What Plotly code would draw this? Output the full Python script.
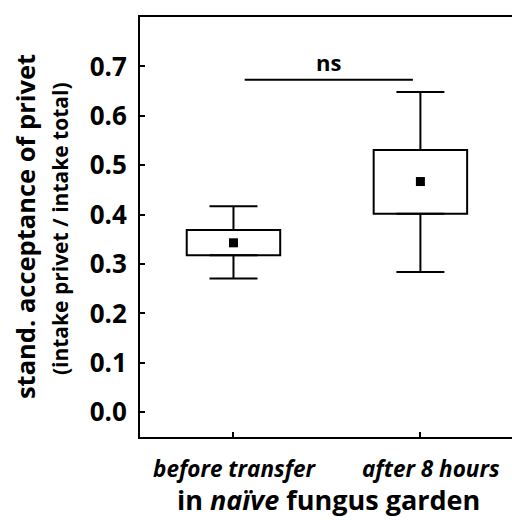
import plotly.graph_objects as go

# Groups and summary values (standardized acceptance of privet)
groups = ["before transfer", "after 8 hours"]
group_x = [0, 1]
means = [0.343, 0.467]
box_low = [0.318, 0.402]
box_high = [0.369, 0.531]
whisker_low = [0.271, 0.284]
whisker_high = [0.417, 0.648]

# Significance bracket between the groups
bracket_x = [0.06, 0.96]
bracket_y = 0.673
bracket_label = "ns"

y_ticks = [0.0, 0.1, 0.2, 0.3, 0.4, 0.5, 0.6, 0.7]

FONT = "Open Sans"
BLACK = "#000000"

fig = go.Figure()

# Upper whiskers: from the top of the box up to the maximum, with caps
fig.add_trace(go.Scatter(
    x=group_x, y=box_high, mode="markers",
    marker=dict(size=1, color="rgba(0,0,0,0)"),
    error_y=dict(type="data", symmetric=False,
                 array=[h - b for h, b in zip(whisker_high, box_high)],
                 arrayminus=[0, 0], color=BLACK, thickness=2, width=24),
    showlegend=False, hoverinfo="skip"))

# Lower whiskers
fig.add_trace(go.Scatter(
    x=group_x, y=box_low, mode="markers",
    marker=dict(size=1, color="rgba(0,0,0,0)"),
    error_y=dict(type="data", symmetric=False, array=[0, 0],
                 arrayminus=[b - l for b, l in zip(box_low, whisker_low)],
                 color=BLACK, thickness=2, width=24),
    showlegend=False, hoverinfo="skip"))

# Boxes
fig.add_trace(go.Bar(
    x=group_x, base=box_low, y=[h - l for h, l in zip(box_high, box_low)],
    width=0.5, marker=dict(color="white", line=dict(color=BLACK, width=2)),
    showlegend=False, hoverinfo="skip"))

# Means
fig.add_trace(go.Scatter(
    x=group_x, y=means, mode="markers",
    marker=dict(symbol="square", size=9, color=BLACK),
    showlegend=False))

# Bracket line
fig.add_trace(go.Scatter(
    x=bracket_x, y=[bracket_y, bracket_y], mode="lines",
    line=dict(color=BLACK, width=2), showlegend=False, hoverinfo="skip"))

annotations = [
    dict(x=sum(bracket_x) / 2, y=bracket_y, xref="x", yref="y",
         text=f"<b>{bracket_label}</b>", showarrow=False, yanchor="bottom",
         yshift=1, font=dict(family=FONT, size=22, color=BLACK)),
    dict(x=-0.309, y=0.5, xref="paper", yref="paper", textangle=-90,
         xanchor="center", yanchor="middle",
         text="<b>stand. acceptance of privet</b>", showarrow=False,
         font=dict(family=FONT, size=25.5, color=BLACK)),
    dict(x=-0.215, y=0.495, xref="paper", yref="paper", textangle=-90,
         xanchor="center", yanchor="middle",
         text="<b>(intake privet / intake total)</b>", showarrow=False,
         font=dict(family=FONT, size=21, color=BLACK)),
    dict(x=0.508, y=-0.15, xref="paper", yref="paper",
         xanchor="center", yanchor="middle",
         text="<b>in <i>naïve</i> fungus garden</b>", showarrow=False,
         font=dict(family=FONT, size=27, color=BLACK)),
]
for gx, label, shift in zip(group_x, groups, [2, 11]):
    annotations.append(dict(
        x=gx, y=-0.074, xref="x", yref="paper", xshift=shift,
        xanchor="center", yanchor="middle",
        text=f"<b><i>{label}</i></b>", showarrow=False,
        font=dict(family=FONT, size=22.5, color=BLACK)))

fig.update_layout(
    width=512, height=520,
    margin=dict(l=140, r=0, t=17, b=83),
    paper_bgcolor="white", plot_bgcolor="white",
    barmode="overlay",
    annotations=annotations,
    xaxis=dict(range=[-0.5, 1.49], tickvals=group_x, ticktext=["", ""],
               ticks="inside", ticklen=5, tickwidth=2, tickcolor=BLACK,
               showline=True, linecolor=BLACK, linewidth=2, mirror=True,
               showgrid=False, zeroline=False),
    yaxis=dict(range=[-0.05, 0.8], tickvals=y_ticks, tickformat=".1f",
               ticks="inside", ticklen=5, tickwidth=2, tickcolor=BLACK,
               showline=True, linecolor=BLACK, linewidth=2,
               showgrid=False, zeroline=False, ticklabelstandoff=6,
               tickfont=dict(family=FONT, size=26, color=BLACK, weight="bold")),
)

fig.write_html("out.html")
